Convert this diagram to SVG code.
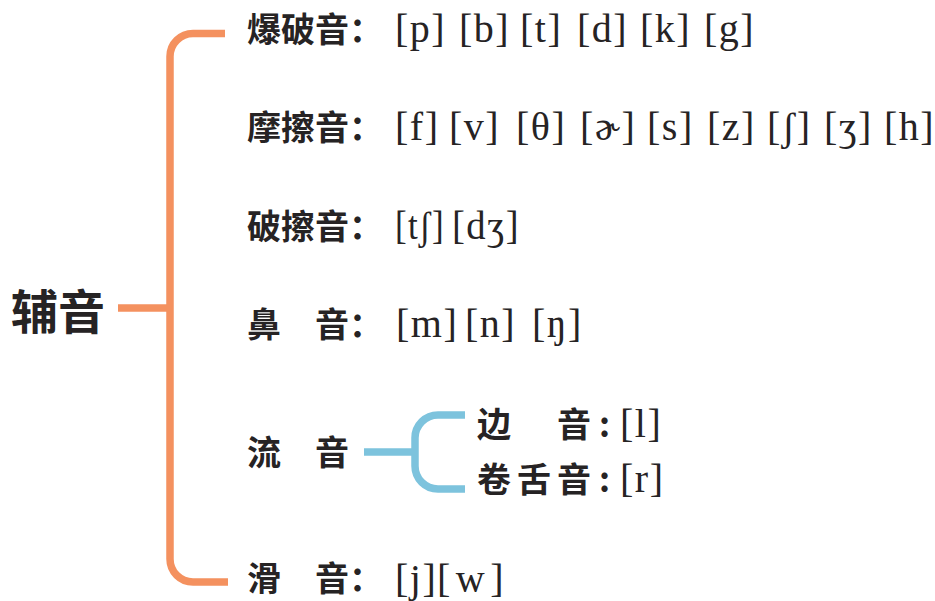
<svg xmlns="http://www.w3.org/2000/svg" width="935" height="601" viewBox="0 0 935 601">
<style>
  .zh { font-family: "Noto Sans CJK SC", sans-serif; font-weight: 700; font-size: 34px; fill: #262324; }
  .ipa { font-family: "Liberation Serif", "DejaVu Serif", serif; font-size: 40px; fill: #262324; letter-spacing: 1.5px; }
  .orange { fill: none; stroke: #F4915F; stroke-width: 7.5; stroke-linecap: butt; }
  .blue { fill: none; stroke: #7DC3DD; stroke-width: 7.5; stroke-linecap: butt; }
</style>
<rect width="935" height="601" fill="#ffffff"/>
<g id="connectors">
  <path class="orange" d="M 118 308 H 170"/>
  <path class="orange" d="M 225 33.5 H 193 A 23 23 0 0 0 170 56.5 V 559 A 23 23 0 0 0 193 582 H 228"/>
  <path class="blue" d="M 364 452 H 415"/>
  <path class="blue" d="M 465 415 H 438 A 23 23 0 0 0 415 438 V 466 A 23 23 0 0 0 438 489 H 465"/>
</g>
<g id="root">
  <text class="zh" x="11" y="329" style="font-size:47px">辅音</text>
</g>
<g id="plosive">
  <text class="zh" x="247" y="42">爆破音：</text>
  <text class="ipa" y="42"><tspan x="395">[p]</tspan><tspan x="459">[b]</tspan><tspan x="520">[t]</tspan><tspan x="577">[d]</tspan><tspan x="640">[k]</tspan><tspan x="704">[g]</tspan></text>
</g>
<g id="fricative">
  <text class="zh" x="247" y="140">摩擦音：</text>
  <text class="ipa" y="140"><tspan x="395">[f]</tspan><tspan x="449">[v]</tspan><tspan x="516">[θ]</tspan><tspan x="580">[ɚ]</tspan><tspan x="647">[s]</tspan><tspan x="707">[z]</tspan><tspan x="767">[ʃ]</tspan><tspan x="824">[ʒ]</tspan><tspan x="884">[h]</tspan></text>
</g>
<g id="affricate">
  <text class="zh" x="247" y="239">破擦音：</text>
  <text class="ipa" x="395" y="239" textLength="50" lengthAdjust="spacingAndGlyphs">[tʃ]</text>
  <text class="ipa" x="452" y="239" textLength="68" lengthAdjust="spacingAndGlyphs">[dʒ]</text>
</g>
<g id="nasal">
  <text class="zh" x="247" y="337">鼻　音：</text>
  <text class="ipa" y="337"><tspan x="396">[m]</tspan><tspan x="465">[n]</tspan><tspan x="532">[ŋ]</tspan></text>
</g>
<g id="liquid">
  <text class="zh" x="247" y="465">流　音</text>
</g>
<g id="lateral">
  <text class="zh" x="477 517 557 599" y="437">边　音:</text>
  <text class="ipa" x="620" y="437">[l]</text>
</g>
<g id="retroflex">
  <text class="zh" x="477 517 557 599" y="492">卷舌音:</text>
  <text class="ipa" x="620" y="492">[r]</text>
</g>
<g id="glide">
  <text class="zh" x="247" y="591">滑　音：</text>
  <text class="ipa" x="395" y="592">[j]</text>
  <text class="ipa" x="437" y="592" textLength="68" lengthAdjust="spacing">[w]</text>
</g>
</svg>
